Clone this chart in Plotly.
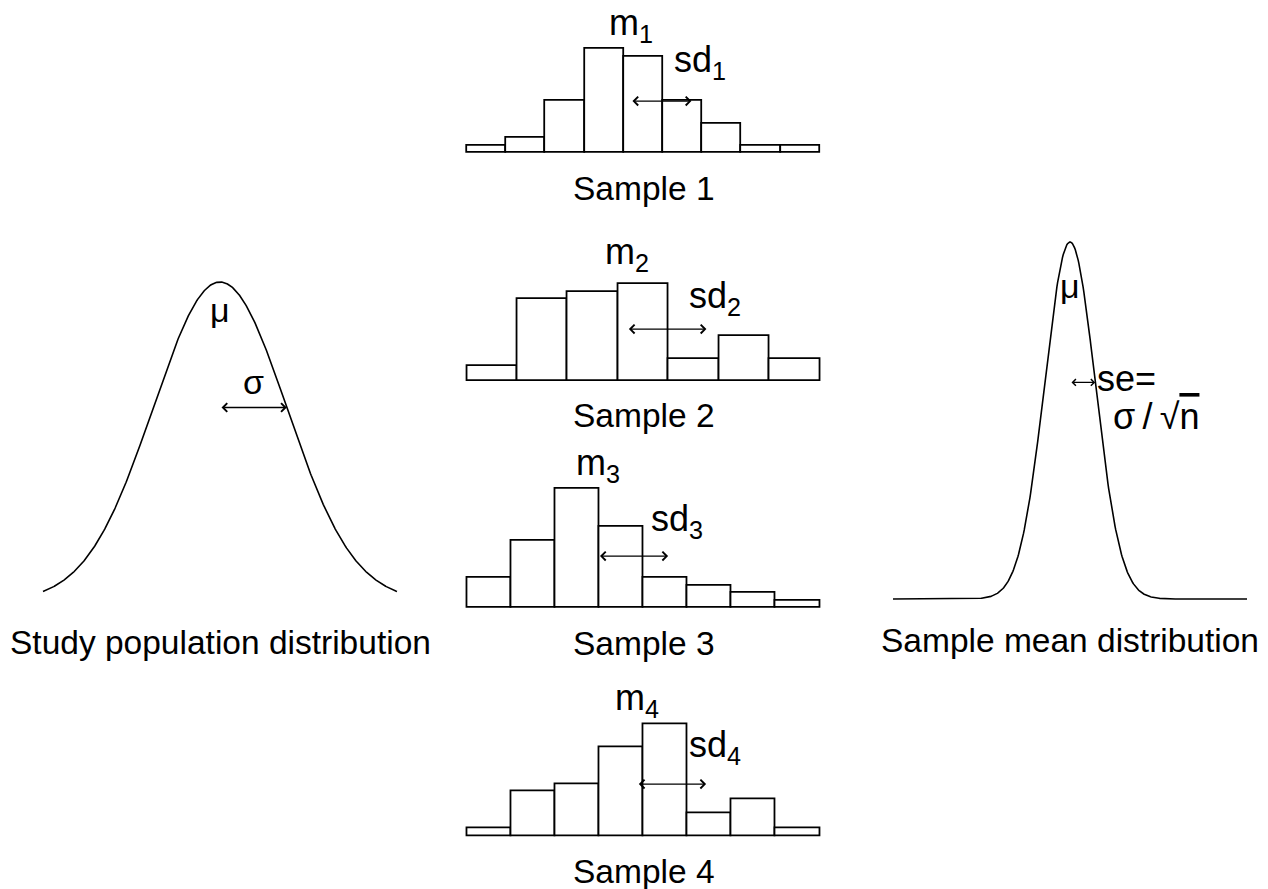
import numpy as np
import plotly.graph_objects as go

OFF = 8                      # page body margin in the browser
W, H = 1268 - OFF, 889 - OFF
FONT = "Liberation Sans, Arial, sans-serif"

# ---------------- data ----------------
sample_names = ["Sample 1", "Sample 2", "Sample 3", "Sample 4"]
sample1_counts = [1, 2, 7, 14, 13, 7, 4, 1, 1]
sample2_counts = [2, 11, 12, 13, 3, 6, 3]
sample3_counts = [4, 9, 16, 11, 4, 3, 2, 1]
sample4_counts = [1, 6, 7, 12, 15, 3, 5, 1]
samples = [sample1_counts, sample2_counts, sample3_counts, sample4_counts]

pop_mu = 0.0
pop_sigma = 1.0
n_per_sample = 7
curve_halfwidth = 2.65          # curves drawn over mu +/- 2.65 sigma
sd_arrow_level = 7              # histogram count level of sd arrows

# ---------------- layout helpers (screen-pixel placement) ----------------
def xdom(p_a, v_a, p_b, v_b, lo, hi):
    s = (p_b - p_a) / (v_b - v_a)
    return [(p_a - OFF + (lo - v_a) * s) / W, (p_a - OFF + (hi - v_a) * s) / W]

def ydom(p_a, v_a, p_b, v_b, lo, hi):
    s = (p_b - p_a) / (v_b - v_a)
    return [1 - (p_a - OFF + (lo - v_a) * s) / H, 1 - (p_a - OFF + (hi - v_a) * s) / H]

hist_left, hist_right = 467, 820
hist_baselines = [153, 381, 608, 836]
px_per_count = 7.42
m_gap = [24, 31, 24, 25]        # px from tallest bar top to m label
sd_gap = [39, 31, 35, 37]       # px from arrow to sd label

fig = go.Figure()
ann = []
axes = {}

def pdf(x, mu, s):
    return np.exp(-0.5 * ((x - mu) / s) ** 2) / (s * np.sqrt(2 * np.pi))

# ---------------- population curve (x, y) ----------------
xc = np.linspace(pop_mu - curve_halfwidth * pop_sigma, pop_mu + curve_halfwidth * pop_sigma, 500)
fig.add_trace(go.Scatter(x=xc, y=pdf(xc, pop_mu, pop_sigma), mode="lines",
                         line=dict(color="black", width=1.6), xaxis="x", yaxis="y",
                         hoverinfo="skip"))
pk = pdf(pop_mu, pop_mu, pop_sigma)
axes["xaxis"] = dict(domain=xdom(43, -curve_halfwidth, 397, curve_halfwidth, -2.8, 2.8), range=[-2.8, 2.8])
axes["yaxis"] = dict(domain=ydom(601, 0, 282, pk, -0.01, pk * 1.05), range=[-0.01, pk * 1.05])

# ---------------- sample mean curve (x2, y2) ----------------
se = pop_sigma / np.sqrt(n_per_sample)
fig.add_trace(go.Scatter(x=xc, y=pdf(xc, pop_mu, se), mode="lines",
                         line=dict(color="black", width=1.6), xaxis="x2", yaxis="y2",
                         hoverinfo="skip"))
pk2 = pdf(pop_mu, pop_mu, se)
axes["xaxis2"] = dict(domain=xdom(893, -curve_halfwidth, 1247, curve_halfwidth, -2.8, 2.8), range=[-2.8, 2.8])
axes["yaxis2"] = dict(domain=ydom(599, 0, 242, pk2, -0.03, pk2 * 1.05), range=[-0.03, pk2 * 1.05])

big = dict(family=FONT, size=36, color="black")
lab = dict(family=FONT, size=33.5, color="black")

def arrow(xr, yr, x0, x1, y, size=1.3):
    ann.append(dict(x=x1, y=y, ax=x0, ay=y, xref=xr, yref=yr, axref=xr, ayref=yr,
                    text="", showarrow=True, arrowhead=4, startarrowhead=4,
                    arrowside="end+start", arrowsize=size, startarrowsize=size,
                    arrowwidth=1.3, arrowcolor="black"))

# population annotations
arrow("x", "y", pop_mu, pop_mu + pop_sigma, pdf(pop_mu + pop_sigma, pop_mu, pop_sigma))
ann.append(dict(x=pop_mu, y=pk, xref="x", yref="y", text="μ", showarrow=False,
                yanchor="middle", yshift=-28, font=dict(family=FONT, size=34, color="black")))
ann.append(dict(x=pop_mu + pop_sigma / 2, y=pdf(pop_mu + pop_sigma, pop_mu, pop_sigma), xref="x", yref="y",
                text="σ", showarrow=False, yanchor="middle", yshift=26,
                font=dict(family=FONT, size=34, color="black")))
ann.append(dict(x=pop_mu, y=0, xref="x", yref="y", text="Study population distribution",
                showarrow=False, yanchor="middle", yshift=-41, font=lab))

# sample mean annotations
arrow("x2", "y2", pop_mu, pop_mu + se, pdf(pop_mu + se, pop_mu, se), size=1.0)
ann.append(dict(x=pop_mu, y=pk2, xref="x2", yref="y2", text="μ", showarrow=False,
                yanchor="middle", yshift=-44, font=dict(family=FONT, size=34, color="black")))
ann.append(dict(x=pop_mu + se, y=pdf(pop_mu + se, pop_mu, se), xref="x2", yref="y2",
                text="se=", showarrow=False, xanchor="left", yanchor="middle", xshift=0, yshift=4,
                font=big))
ann.append(dict(x=pop_mu + se, y=pdf(pop_mu + se, pop_mu, se), xref="x2", yref="y2",
                text="σ\u2009/\u2009√<span style='text-decoration:overline'>n</span>", showarrow=False,
                xanchor="left", yanchor="middle", xshift=16, yshift=-34, font=big))
ann.append(dict(x=pop_mu, y=0, xref="x2", yref="y2", text="Sample mean distribution",
                showarrow=False, yanchor="middle", yshift=-41, font=lab))

# ---------------- histograms ----------------
for k, counts in enumerate(samples):
    ax_i = k + 3
    xr, yr = f"x{ax_i}", f"y{ax_i}"
    nb = len(counts)
    centers = np.arange(nb) + 0.5
    fig.add_trace(go.Bar(x=centers, y=counts, width=1.0, xaxis=xr, yaxis=yr,
                         marker=dict(color="white", line=dict(color="black", width=1.8)),
                         hoverinfo="skip"))
    c = np.array(counts, dtype=float)
    mean = (c * centers).sum() / c.sum()
    sd = np.sqrt((c * (centers - mean) ** 2).sum() / c.sum())
    base = hist_baselines[k]
    axes[f"xaxis{ax_i}"] = dict(domain=xdom(hist_left, 0, hist_right, nb, -0.15, nb + 0.15),
                                range=[-0.15, nb + 0.15])
    top = max(counts) + 1
    axes[f"yaxis{ax_i}"] = dict(domain=ydom(base, 0, base - px_per_count, 1, -0.3, top),
                                range=[-0.3, top])
    arrow(xr, yr, mean, mean + sd, sd_arrow_level)
    ann.append(dict(x=mean, y=max(counts), xref=xr, yref=yr, text=f"m<sub>{k+1}</sub>",
                    showarrow=False, yanchor="middle", yshift=m_gap[k], font=big))
    ann.append(dict(x=mean + sd, y=sd_arrow_level, xref=xr, yref=yr, text=f"sd<sub>{k+1}</sub>",
                    showarrow=False, xanchor="left", yanchor="middle", xshift=-19,
                    yshift=sd_gap[k], font=big))
    ann.append(dict(x=0.5, y=0, xref=f"{xr} domain", yref=yr, text=sample_names[k],
                    showarrow=False, yanchor="middle", yshift=-35, font=lab))

for name, a in axes.items():
    suffix = name[5:]
    a.update(visible=False, fixedrange=True)
    a["anchor"] = ("y" if name.startswith("xaxis") else "x") + suffix
fig.update_layout(**axes)
fig.update_layout(width=W, height=H, margin=dict(l=0, r=0, t=0, b=0),
                  paper_bgcolor="white", plot_bgcolor="rgba(0,0,0,0)",
                  showlegend=False, bargap=0, annotations=ann)

fig.write_html("out.html", config={"displayModeBar": False})
